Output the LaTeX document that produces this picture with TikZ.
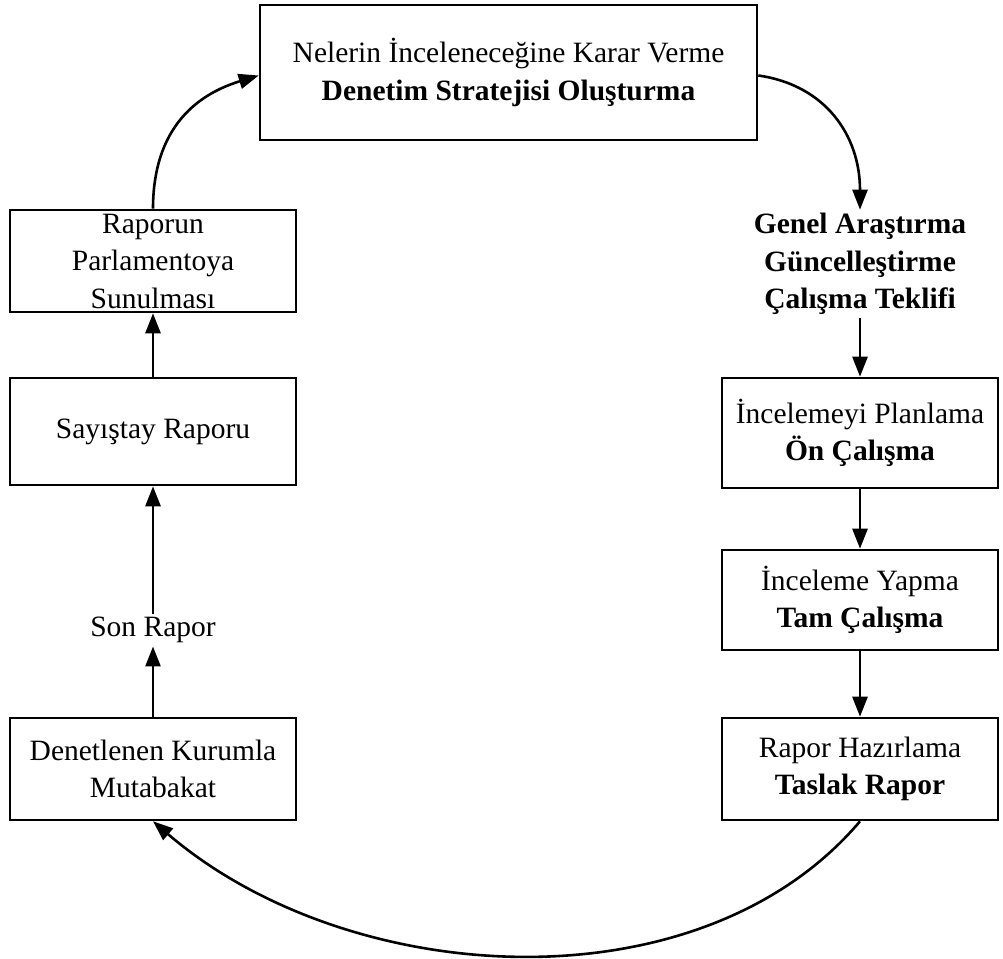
\documentclass[tikz,border=0pt]{standalone}
\usepackage{fontspec}
\setmainfont{Liberation Serif}
\usetikzlibrary{arrows.meta}
\begin{document}
\begin{tikzpicture}[x=1pt,y=-1pt,
  every node/.style={font=\fontsize{29.5}{37.5}\selectfont, align=center},
  stepbox/.style={draw, line width=2.6pt, inner sep=0pt},
  flow/.style={line width=2.6pt, -{Triangle[length=20pt,width=15pt]}}]
\useasboundingbox (0,0) rectangle (1003,958);

% top box
\node[stepbox, minimum width=497pt, minimum height=135pt] (top) at (508.5,72.5)
  {Nelerin İnceleneceğine Karar Verme\\ \textbf{Denetim Stratejisi Oluşturma}};

% right column
\node (genel) at (860,264)
  {\textbf{Genel Araştırma}\\ \textbf{Güncelleştirme}\\ \textbf{Çalışma Teklifi}};
\node[stepbox, minimum width=276pt, minimum height=110pt] (plan) at (860,433)
  {İncelemeyi Planlama\\ \textbf{Ön Çalışma}};
\node[stepbox, minimum width=276pt, minimum height=100pt] (yap) at (860,600)
  {İnceleme Yapma\\ \textbf{Tam Çalışma}};
\node[stepbox, minimum width=276pt, minimum height=102pt] (taslak) at (860,769)
  {Rapor Hazırlama\\ \textbf{Taslak Rapor}};

% left column
\node[stepbox, minimum width=286pt, minimum height=102pt] (mutabakat) at (153,769)
  {Denetlenen Kurumla\\ Mutabakat};
\node (son) at (153,630) {Son Rapor};
\node[stepbox, minimum width=286pt, minimum height=107pt] (sayistay) at (153,431.5)
  {Sayıştay Raporu};
\node[stepbox, minimum width=286pt, minimum height=102pt] (meclis) at (153,261)
  {Raporun\\ Parlamentoya\\ Sunulması};

% connectors
\draw[flow] ([yshift=-3pt]top.east) .. controls (825,85) and (860,135) .. (genel.north);
\draw[flow] (genel.south) -- (plan.north);
\draw[flow] (plan.south) -- (yap.north);
\draw[flow] (yap.south) -- (taslak.north);
\draw[flow] (taslak.south) .. controls (700,1010) and (350,990) .. (mutabakat.south);
\draw[flow] (mutabakat.north) -- (son.south);
\draw[flow] (son.north) -- (sayistay.south);
\draw[flow] (sayistay.north) -- (meclis.south);
\draw[flow] (meclis.north) .. controls (153,140) and (185,98) .. ([yshift=-3pt]top.west);
\end{tikzpicture}
\end{document}
